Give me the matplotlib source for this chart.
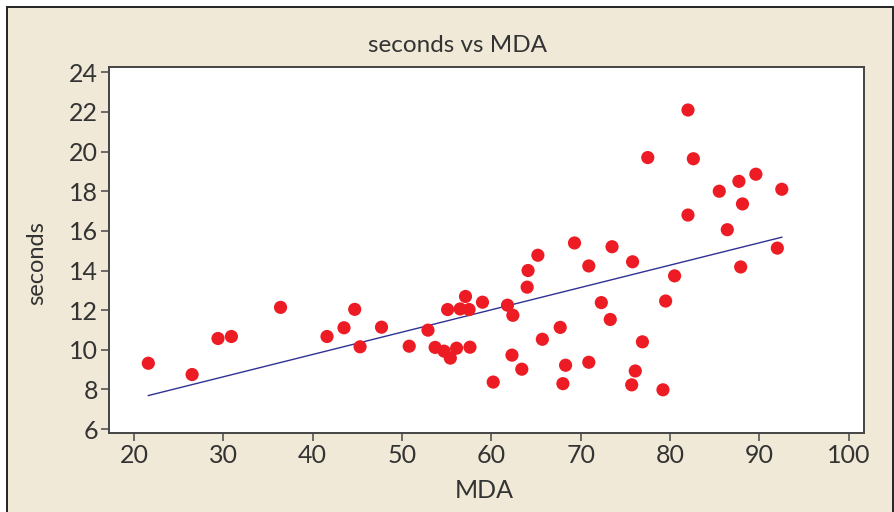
import matplotlib
matplotlib.use("Agg")
import matplotlib.pyplot as plt
from matplotlib.patches import Rectangle

plt.rcParams['font.family'] = ['Lato', 'DejaVu Sans']

mda = [21.6, 26.5, 29.4, 30.9, 36.4, 41.6, 43.5, 44.7, 45.3, 47.7,
       50.8, 52.9, 53.7, 54.7, 55.4, 55.1, 56.1, 56.5, 57.1, 57.5,
       57.6, 59.0, 60.2, 61.8, 62.4, 62.3, 63.4, 64.0, 64.1, 65.2, 65.7,
       67.7, 68.0, 68.3, 69.3, 70.9, 70.9, 72.3, 73.3, 73.5, 75.7,
       75.8, 76.1, 76.9, 77.5, 79.2, 79.5, 80.5, 82.0, 82.0, 82.6,
       85.5, 86.4, 87.7, 87.9, 88.1, 89.6, 92.0, 92.5]
seconds = [9.32, 8.75, 10.57, 10.67, 12.14, 10.67, 11.11, 12.04, 10.15, 11.14,
           10.18, 10.99, 10.12, 9.93, 9.58, 12.03, 10.08, 12.06, 12.69, 12.03,
           10.13, 12.40, 8.37, 12.25, 11.74, 9.73, 9.02, 13.16, 14.00, 14.77, 10.53,
           11.13, 8.29, 9.22, 15.39, 14.23, 9.37, 12.38, 11.53, 15.20, 8.23,
           14.44, 8.93, 10.40, 19.70, 7.98, 12.46, 13.73, 22.10, 16.80, 19.64,
           18.00, 16.06, 18.50, 14.18, 17.36, 18.86, 15.13, 18.10]

fit_x = [21.6, 92.5]
fit_y = [7.69, 15.68]

xticks = [20, 30, 40, 50, 60, 70, 80, 90, 100]
yticks = [6, 8, 10, 12, 14, 16, 18, 20, 22, 24]

W, H = 895, 512
fig = plt.figure(figsize=(W / 100, H / 100), dpi=100)
fig.patch.set_facecolor('white')

bg = Rectangle((7 / W, -0.05), (893 - 7) / W, 1 - 7 / H + 0.05,
               transform=fig.transFigure, facecolor='#f1e9d7',
               edgecolor='#222222', linewidth=1.4, zorder=-5)
fig.add_artist(bg)

ax = fig.add_axes([109 / W, 1 - 433 / H, (864 - 109) / W, (433 - 67) / H])
ax.set_zorder(1)
ax.set_facecolor('white')

ax.scatter(mda, seconds, s=90, color='#ed1c24', edgecolors='none', zorder=3)
ax.plot(fit_x, fit_y, color='#2e3192', linewidth=1.0, zorder=2)

ax.set_xlim(17.2, 101.7)
ax.set_ylim(5.8, 24.27)
ax.set_xticks(xticks)
ax.set_yticks(yticks)
ax.tick_params(axis='both', length=6, width=1.2, color='#555555',
               labelsize=18, labelcolor='#333333', pad=2)
for sp in ax.spines.values():
    sp.set_color('#444444')
    sp.set_linewidth(1.4)

fig.text(458 / W, 1 - 46 / H, 'seconds vs MDA', ha='center',
         va='center', fontsize=17.5, color='#333333')
fig.text(484 / W, 1 - 490 / H, 'MDA', ha='center',
         va='center', fontsize=18, color='#333333')
fig.text(37 / W, 1 - 263 / H, 'seconds', ha='center', va='center',
         rotation=90, fontsize=17, color='#333333')

fig.savefig('out.png', dpi=100, facecolor=fig.get_facecolor())
